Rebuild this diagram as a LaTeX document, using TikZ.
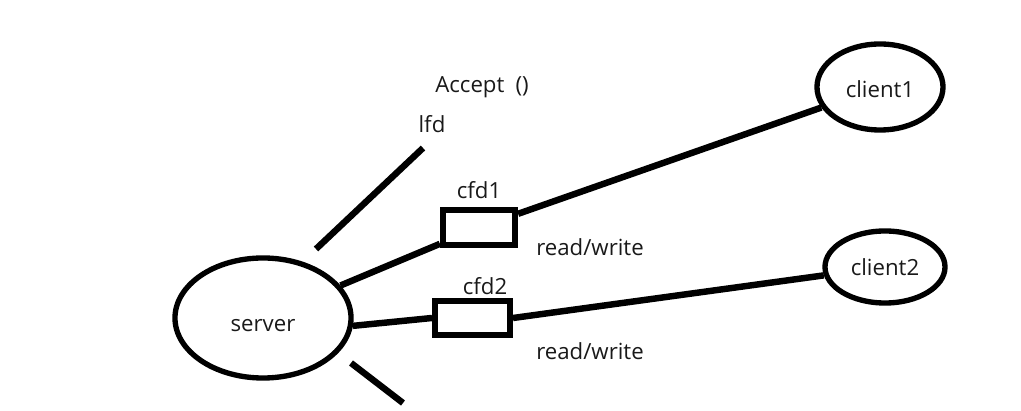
\documentclass[tikz,border=0pt]{standalone}
\usepackage{fontspec}
\setmainfont{Open Sans}
\usetikzlibrary{shapes.geometric,positioning}

\tikzset{
  txt/.style={text=black!90, font=\fontsize{15.8}{18}\selectfont, inner sep=0pt},
  peer/.style={draw, ellipse, line width=3.8pt, inner sep=0pt, txt},
  fdbox/.style={draw, rectangle, line width=4.4pt, inner sep=0pt},
  wire/.style={line width=4.6pt}
}

\begin{document}
\begin{tikzpicture}[x=0.025cm, y=-0.025cm]
            \useasboundingbox (0,0) rectangle (1021,411);
            % endpoints
            \node[peer, minimum width=4.4cm, minimum height=3cm] (server) at (263,318) {\smash{\raisebox{-0.34cm}{server}}};
            \node[peer, minimum width=3.15cm, minimum height=2.15cm] (client1) at (880,87) {\smash{\raisebox{-0.27cm}{client1}}};
            \node[peer, minimum width=3.0cm, minimum height=1.8cm] (client2) at (885,267) {client2};
            % descriptors
            \node[fdbox, minimum width=1.8cm, minimum height=0.87cm] (cfd1) at (479,227.5) {};
            \node[fdbox, minimum width=1.87cm, minimum height=0.85cm] (cfd2) at (472.5,318) {};
            \node[txt] (cfd1lbl) at (479,190) {cfd1};
            \node[txt] (cfd2lbl) at (485,286) {cfd2};
            \node[txt] (rw1) at (590,247) {read/write};
            \node[txt] (rw2) at (590,351) {read/write};
            \node[txt] (lfd) at (432,124) {lfd};
            \node[txt] (accept) at (482,87) {Accept\enspace()};
            % connections
            \coordinate (lfda) at (316,249);
            \coordinate (lfdb) at (423,148);
            \coordinate (nexta) at (351,363);
            \coordinate (nextb) at (403,403);
            \draw[wire] (lfda) -- (lfdb);
            \draw[wire] (nexta) -- (nextb);
            \draw[wire] (server) -- (cfd1);
            \draw[wire] (cfd1) -- (client1);
            \draw[wire] (server.-5) -- (cfd2.west);
            \draw[wire] (cfd2.east) -- (client2);
        \end{tikzpicture}
\end{document}
